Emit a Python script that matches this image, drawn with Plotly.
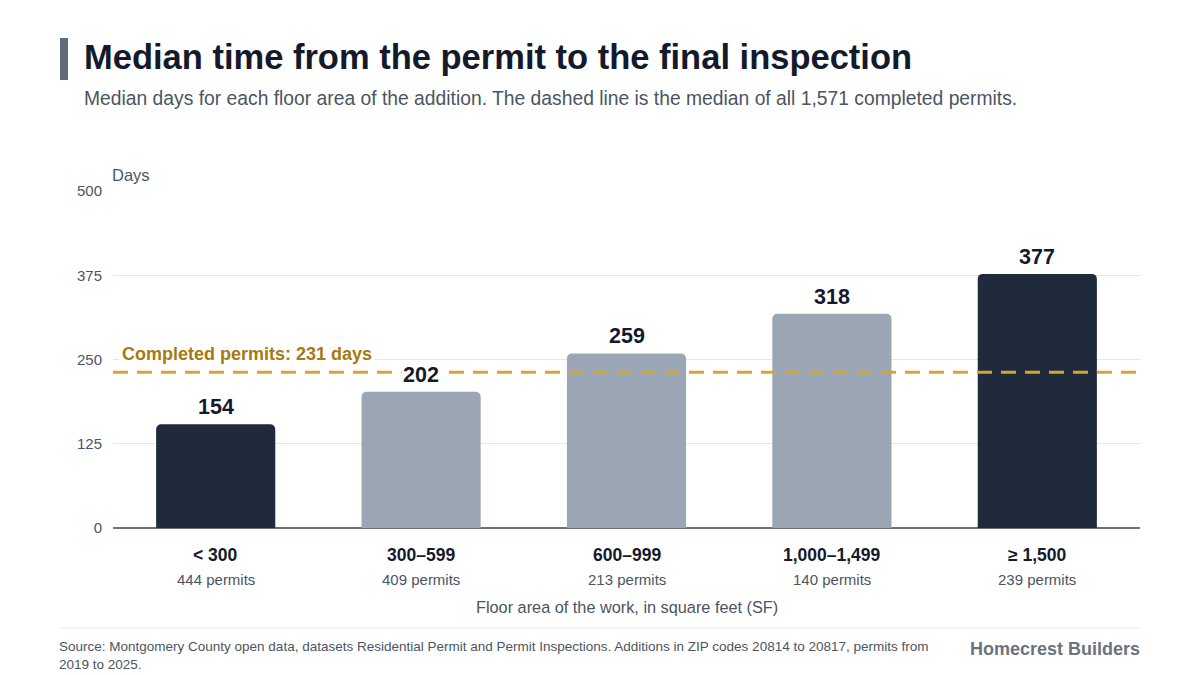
import plotly.graph_objects as go

categories = ["< 300", "300–599", "600–999", "1,000–1,499", "≥ 1,500"]
permit_counts = ["444 permits", "409 permits", "213 permits", "140 permits", "239 permits"]
median_days = [154, 202, 259, 318, 377]
highlight = [True, False, False, False, True]
overall_median = 231
y_ticks = [0, 125, 250, 375, 500]

W, H = 1200, 675
L, R, T, B = 113, 60, 191, 147
PW, PH = W - L - R, H - T - B

def px_x(px):
    return (px - L) / PW

def px_y(py):
    return (H - B - py) / PH

FONT = "Liberation Sans, Arial, Helvetica, sans-serif"
DARK = "#1f2a3c"
LIGHT = "#9aa6b3"
GOLD = "#d9a531"
GOLD_TEXT = "#a67a12"

colors = [DARK if h else LIGHT for h in highlight]

fig = go.Figure()
fig.add_trace(go.Bar(
    x=categories, y=median_days, marker=dict(color=colors, line=dict(width=0)),
    width=0.58, hoverinfo="skip",
))

annotations = []
for c, v in zip(categories, median_days):
    annotations.append(dict(
        x=c, y=v, xref="x", yref="y", text=f"<b>{v}</b>", showarrow=False,
        yanchor="bottom", yshift=3, bgcolor="white", borderpad=1,
        font=dict(family=FONT, size=21.5, color="#141a2b"),
    ))
for c, p in zip(categories, permit_counts):
    annotations.append(dict(
        x=c, y=px_y(555), xref="x", yref="paper", text=f"<b>{c}</b>", showarrow=False,
        yanchor="middle", font=dict(family=FONT, size=17.5, color="#141a2b"),
    ))
    annotations.append(dict(
        x=c, y=px_y(579), xref="x", yref="paper", text=p, showarrow=False,
        yanchor="middle", font=dict(family=FONT, size=15, color="#4b5563"),
    ))

annotations += [
    dict(x=0.5, y=px_y(607), xref="paper", yref="paper", showarrow=False,
         text="Floor area of the work, in square feet (SF)", yanchor="middle",
         font=dict(family=FONT, size=16.3, color="#4b5563")),
    dict(x=px_x(110), y=px_y(175), xref="paper", yref="paper", showarrow=False,
         text="Days", xanchor="left", yanchor="middle",
         font=dict(family=FONT, size=16.5, color="#4b5563")),
    dict(x=px_x(119), y=overall_median, xref="paper", yref="y", showarrow=False,
         text=f"<b>Completed permits: {overall_median} days</b>", xanchor="left",
         yanchor="bottom", yshift=5, bgcolor="white", borderpad=2,
         font=dict(family=FONT, size=18, color=GOLD_TEXT)),
    dict(x=px_x(82), y=px_y(57), xref="paper", yref="paper", showarrow=False,
         text="<b>Median time from the permit to the final inspection</b>",
         xanchor="left", yanchor="middle",
         font=dict(family=FONT, size=34.5, color="#141a2b")),
    dict(x=px_x(82), y=px_y(99), xref="paper", yref="paper", showarrow=False,
         text="Median days for each floor area of the addition. The dashed line is the median of all 1,571 completed permits.",
         xanchor="left", yanchor="middle",
         font=dict(family=FONT, size=19.3, color="#4b5563")),
    dict(x=px_x(57), y=px_y(655), xref="paper", yref="paper", showarrow=False,
         text="Source: Montgomery County open data, datasets Residential Permit and Permit Inspections. Additions in ZIP codes 20814 to 20817, permits from<br>2019 to 2025.",
         xanchor="left", yanchor="middle", align="left",
         font=dict(family=FONT, size=13.5, color="#4b5563")),
    dict(x=px_x(1142), y=px_y(649), xref="paper", yref="paper", showarrow=False,
         text="<b>Homecrest Builders</b>", xanchor="right", yanchor="middle",
         font=dict(family=FONT, size=18, color="#6b7280")),
]

shapes = [
    dict(type="line", xref="paper", yref="y", x0=0, x1=1, y0=overall_median, y1=overall_median,
         line=dict(color=GOLD, width=3, dash="15px,9px"), layer="above"),
    dict(type="rect", xref="paper", yref="paper", x0=px_x(60), x1=px_x(68),
         y0=px_y(80), y1=px_y(38), fillcolor="#5f6b7a", line=dict(width=0)),
    dict(type="line", xref="paper", yref="paper", x0=px_x(60), x1=px_x(1140),
         y0=px_y(628), y1=px_y(628), line=dict(color="#e5e7eb", width=1)),
]

fig.update_layout(
    width=W, height=H, margin=dict(l=L, r=R, t=T, b=B),
    paper_bgcolor="white", plot_bgcolor="white", showlegend=False,
    barcornerradius=5, annotations=annotations, shapes=shapes,
    font=dict(family=FONT),
    xaxis=dict(showticklabels=False, showgrid=False, showline=False, zeroline=False,
               range=[-0.5, 4.5], fixedrange=True),
    yaxis=dict(range=[0, 500], tickvals=y_ticks, showgrid=True, gridcolor="#e5e7eb",
               gridwidth=1, zeroline=True, zerolinecolor="#6b7280", zerolinewidth=1.5,
               showline=False, ticklabelstandoff=10,
               tickfont=dict(family=FONT, size=15, color="#4b5563"), fixedrange=True),
)

fig.write_html("out.html", config={"displayModeBar": False})
